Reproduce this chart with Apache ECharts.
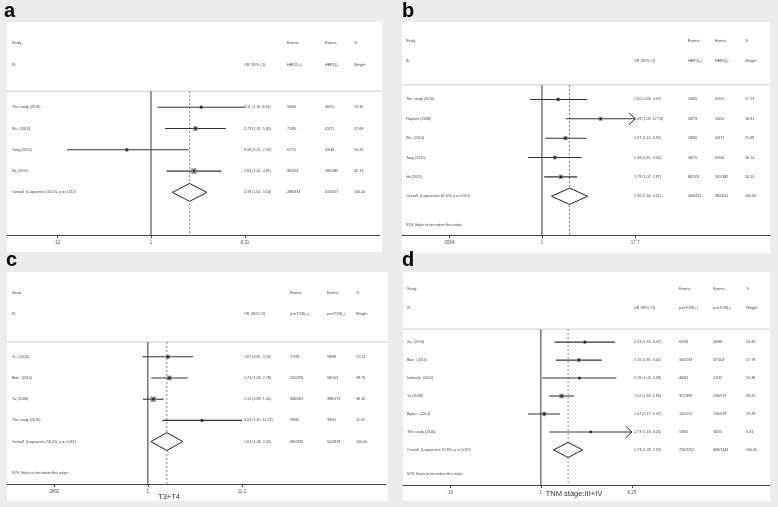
<!DOCTYPE html>
<html><head><meta charset="utf-8">
<script src="https://cdn.jsdelivr.net/npm/echarts@6/dist/echarts.min.js"></script>
<style>html,body{margin:0;padding:0;background:#ececec}#c{width:778px;height:507px}</style>
</head><body><div id="c"></div>
<script>
// ---------- Panel a : HER2 ----------
const aStudies = ['This study (2016)', 'Wu  (2014)', 'Tang (2015)', 'He (2015)'];
const aOR = [3.11, 2.73, 0.58, 2.64];
const aLo = [1.16, 1.37, 0.15, 1.42];
const aHi = [8.31, 5.45, 2.33, 4.91];
const aEvPos = ['59/65', '71/90', '67/75', '90/103'];
const aEvNeg = ['40/55', '41/71', '43/46', '286/385'];
const aWeight = [13.35, 27.69, 16.26, 42.71];
const aTrunc = [0, 0, 0, 0];
const aOverall = [2.39, 1.62, 3.54];
const aOverallLabel = 'Overall  (I-squared = 33.5%, p = 0.211)';
const aOverallEv = ['288/333', '410/557'];
const aTicks = [0.12, 1, 8.31];
const aTickLabels = ['.12', '1', '8.31'];

// ---------- Panel b : HER2 ----------
const bStudies = ['This study (2016)', 'Hayashi (2008)', 'Wu  (2014)', 'Tang (2015)', 'He (2015)'];
const bOR = [1.65, 6.09, 2.07, 1.49, 1.79];
const bLo = [0.69, 2.09, 1.10, 0.65, 1.07];
const bHi = [4.07, 17.74, 3.92, 3.42, 2.97];
const bEvPos = ['54/65', '59/79', '59/90', '56/75', '80/103'];
const bEvNeg = ['41/55', '14/55', '34/71', '32/46', '261/385'];
const bWeight = [17.13, 18.91, 21.68, 18.14, 24.14];
const bTrunc = [0, 1, 0, 0, 0];
const bOverall = [2.35, 1.34, 4.11];
const bOverallLabel = 'Overall  (I-squared = 67.6%, p = 0.015)';
const bOverallEv = ['308/412', '382/612'];
const bTicks = [0.0564, 1, 17.7];
const bTickLabels = ['.0564', '1', '17.7'];

// ---------- Panel c : p-mTOR, T3+T4 ----------
const cStudies = ['Xu  (2010)', 'Bian  (2015)', 'Yu (2009)', 'This study (2016)'];
const cOR = [1.67, 1.74, 1.15, 4.03];
const cLo = [0.87, 1.09, 0.88, 1.45];
const cHi = [3.20, 2.78, 1.50, 11.21];
const cEvPos = ['71/93', '205/293', '346/481', '59/65'];
const cEvNeg = ['58/88', '59/103', '396/573', '39/55'];
const cWeight = [21.23, 28.76, 38.10, 11.92];
const cTrunc = [0, 0, 0, 0];
const cOverall = [1.63, 1.08, 2.45];
const cOverallLabel = 'Overall  (I-squared = 59.4%, p = 0.061)';
const cOverallEv = ['681/932', '552/819'];
const cTicks = [0.0892, 1, 11.21];
const cTickLabels = ['.0892', '1', '11.2'];

// ---------- Panel d : p-mTOR, TNM stage III+IV ----------
const dStudies = ['Xu  (2010)', 'Bian  (2015)', 'Inokuchi  (2011)', 'Yu (2009)', 'Byeon  (2014)', 'This study (2016)'];
const dOR = [2.43, 2.15, 2.18, 1.52, 1.07, 2.73];
const dLo = [1.32, 1.35, 1.03, 1.18, 0.77, 1.19];
const dHi = [4.47, 3.41, 4.58, 1.95, 1.47, 6.25];
const dEvPos = ['65/93', '160/293', '46/81', '327/499', '105/221', '53/65'];
const dEvNeg = ['43/88', '37/103', '17/45', '318/573', '220/479', '34/55'];
const dWeight = [13.41, 17.79, 10.38, 28.20, 23.28, 6.94];
const dTrunc = [0, 0, 0, 0, 0, 1];
const dOverall = [1.73, 1.29, 2.32];
const dOverallLabel = 'Overall  (I-squared = 57.8%, p = 0.037)';
const dOverallEv = ['756/1252', '669/1343'];
const dTicks = [0.16, 1, 6.25];
const dTickLabels = ['.16', '1', '6.25'];

const overallWeight = '100.00';
const noteText = 'NOTE: Weights are from random effects analysis';

// ---------- layout (positions / styles only) ----------
const FONT = '"Liberation Sans", Arial, sans-serif';
const panels = [
  {P:{studies:aStudies, or:aOR, lo:aLo, hi:aHi, evPos:aEvPos, evNeg:aEvNeg, weight:aWeight, trunc:aTrunc,
      overall:aOverall, overallLabel:aOverallLabel, overallEv:aOverallEv, ticks:aTicks, tickLabels:aTickLabels,
      hdrPos:'HER2(+)', hdrNeg:'HER2(-)', note:null, letter:'a', title:null},
   L:{rect:[7,22,375,230], grid:[7,22,373,213], x:[-3.25,5.17], y:[-4,6], cols:[5,237,280,318,347], hdr:[-3,-2,-0.75],
      letter:[4,1], noteRow:null, title:null}},
  {P:{studies:bStudies, or:bOR, lo:bLo, hi:bHi, evPos:bEvPos, evNeg:bEvNeg, weight:bWeight, trunc:bTrunc,
      overall:bOverall, overallLabel:bOverallLabel, overallEv:bOverallEv, ticks:bTicks, tickLabels:bTickLabels,
      hdrPos:'HER2(+)', hdrNeg:'HER2(-)', note:noteText, letter:'b', title:null},
   L:{rect:[402,22,368,231], grid:[402,22,368,213], x:[-4.32,7.04], y:[-4,7], cols:[4,232,286,313,343], hdr:[-3,-2,-0.75],
      letter:[402,1], noteRow:6.5, title:null}},
  {P:{studies:cStudies, or:cOR, lo:cLo, hi:cHi, evPos:cEvPos, evNeg:cEvNeg, weight:cWeight, trunc:cTrunc,
      overall:cOverall, overallLabel:cOverallLabel, overallEv:cOverallEv, ticks:cTicks, tickLabels:cTickLabels,
      hdrPos:'p-mTOR(+)', hdrNeg:'p-mTOR(-)', note:noteText, letter:'c', title:'T3+T4'},
   L:{rect:[7,272,381,229], grid:[7,272,379,212], x:[-3.62,6.12], y:[-4,6], cols:[5,237,283,320,349], hdr:[-3,-2,-0.7],
      letter:[6,250], noteRow:5.5, title:[169,497]}},
  {P:{studies:dStudies, or:dOR, lo:dLo, hi:dHi, evPos:dEvPos, evNeg:dEvNeg, weight:dWeight, trunc:dTrunc,
      overall:dOverall, overallLabel:dOverallLabel, overallEv:dOverallEv, ticks:dTicks, tickLabels:dTickLabels,
      hdrPos:'p-mTOR(+)', hdrNeg:'p-mTOR(-)', note:noteText, letter:'d', title:'TNM stage:III+IV'},
   L:{rect:[403,272,367,229], grid:[403,272,367,213], x:[-2.78,4.62], y:[-3.9,7.95], cols:[4,231,276,310,343], hdr:[-2.94,-1.9,-0.72],
      letter:[402,250], noteRow:7.35, title:[574,494]}}
];

const grid = [], xAxis = [], yAxis = [], series = [], graphic = [];
const ln = Math.log;
const fmt = (o, l, h) => o.toFixed(2) + ' (' + l.toFixed(2) + ', ' + h.toFixed(2) + ')';

panels.forEach(({P, L}, idx) => {
  const tMin = ln(P.ticks[0]), tMax = ln(P.ticks[P.ticks.length - 1]);
  const tickVals = P.ticks.map(ln);
  grid.push({left:L.grid[0], top:L.grid[1], width:L.grid[2], height:L.grid[3]});
  xAxis.push({gridIndex:idx, type:'value', min:L.x[0], max:L.x[1], splitLine:{show:false},
    axisLine:{show:true, onZero:false, lineStyle:{color:'#444', width:1}},
    axisTick:{show:true, length:3, customValues:tickVals, lineStyle:{color:'#444', width:1}},
    axisLabel:{show:true, customValues:tickVals, fontSize:4.5, color:'#555', margin:5, fontFamily:FONT,
      formatter:(v) => { const k = tickVals.findIndex(t => Math.abs(t - v) < 1e-3); return k >= 0 ? P.tickLabels[k] : ''; }}});
  yAxis.push({gridIndex:idx, type:'value', inverse:true, min:L.y[0], max:L.y[1], show:false});

  const n = P.studies.length;
  // reference lines: header separator, null line, dashed overall line
  series.push({type:'custom', xAxisIndex:idx, yAxisIndex:idx, silent:true, z:1,
    data:[[ln(P.overall[0]), L.hdr[2]]],
    renderItem:(params, api) => {
      const cs = params.coordSys;
      const yTop = api.coord([0, api.value(1)])[1];
      const yBot = cs.y + cs.height;
      const x1 = api.coord([0, 0])[0];
      const xd = api.coord([api.value(0), 0])[0];
      return {type:'group', children:[
        {type:'line', shape:{x1:L.rect[0], y1:yTop, x2:L.rect[0] + L.rect[2], y2:yTop}, style:{stroke:'#cfcfcf', lineWidth:1}},
        {type:'line', shape:{x1:x1, y1:yTop, x2:x1, y2:yBot}, style:{stroke:'#333', lineWidth:1}},
        {type:'line', shape:{x1:xd, y1:yTop, x2:xd, y2:yBot}, style:{stroke:'#666', lineWidth:0.8, lineDash:[2, 2]}}
      ]};
    }});
  // study CIs, boxes and points
  series.push({type:'custom', xAxisIndex:idx, yAxisIndex:idx, silent:true, z:3,
    data:P.or.map((o, i) => [ln(o), i, ln(P.lo[i]), ln(P.hi[i]), P.weight[i], P.trunc[i]]),
    renderItem:(params, api) => {
      const y = api.coord([0, api.value(1)])[1];
      const lo = Math.max(api.value(2), tMin), hi = Math.min(api.value(3), tMax);
      const xo = api.coord([api.value(0), 0])[0];
      const xl = api.coord([lo, 0])[0], xh = api.coord([hi, 0])[0];
      const s = 0.72 * Math.sqrt(api.value(4));
      const ch = [
        {type:'line', shape:{x1:xl, y1:y, x2:xh, y2:y}, style:{stroke:'#333', lineWidth:1.1}},
        {type:'rect', shape:{x:xo - s / 2, y:y - s / 2, width:s, height:s}, style:{fill:'#8f8f8f', stroke:'#6a6a6a', lineWidth:0.5}},
        {type:'circle', shape:{cx:xo, cy:y, r:1.15}, style:{fill:'#111'}}
      ];
      if (api.value(5)) ch.push({type:'polyline', shape:{points:[[xh - 6, y - 6], [xh, y], [xh - 6, y + 6]]}, style:{stroke:'#222', fill:null, lineWidth:1}});
      return {type:'group', children:ch};
    }});
  // overall diamond
  series.push({type:'custom', xAxisIndex:idx, yAxisIndex:idx, silent:true, z:3,
    data:[[ln(P.overall[0]), n, ln(P.overall[1]), ln(P.overall[2])]],
    renderItem:(params, api) => {
      const y = api.coord([0, api.value(1)])[1];
      const h = api.size([0, 1])[1] * 0.42;
      const xo = api.coord([api.value(0), 0])[0];
      const xl = api.coord([api.value(2), 0])[0], xh = api.coord([api.value(3), 0])[0];
      return {type:'polygon', shape:{points:[[xl, y], [xo, y - h], [xh, y], [xo, y + h]]}, style:{fill:'#fff', stroke:'#222', lineWidth:1}};
    }});
  // text columns
  const items = [];
  const add = (col, row, text, fs) => items.push({col, row, text, fs: fs || 3.7});
  add(0, L.hdr[0], 'Study'); add(2, L.hdr[0], 'Events,'); add(3, L.hdr[0], 'Events,'); add(4, L.hdr[0], '%');
  add(0, L.hdr[1], 'ID'); add(1, L.hdr[1], 'OR (95% CI)'); add(2, L.hdr[1], P.hdrPos); add(3, L.hdr[1], P.hdrNeg); add(4, L.hdr[1], 'Weight');
  P.studies.forEach((s, i) => {
    add(0, i, s); add(1, i, fmt(P.or[i], P.lo[i], P.hi[i])); add(2, i, P.evPos[i]); add(3, i, P.evNeg[i]); add(4, i, P.weight[i].toFixed(2));
  });
  add(0, n, P.overallLabel); add(1, n, fmt(P.overall[0], P.overall[1], P.overall[2]));
  add(2, n, P.overallEv[0]); add(3, n, P.overallEv[1]); add(4, n, overallWeight);
  if (P.note) add(0, L.noteRow, P.note, 2.6);
  series.push({type:'custom', xAxisIndex:idx, yAxisIndex:idx, silent:true, z:4,
    data:items.map(it => [0, it.row]),
    renderItem:(params, api) => {
      const it = items[params.dataIndex];
      const y = api.coord([0, api.value(1)])[1];
      return {type:'text', x:params.coordSys.x + L.cols[it.col], y:y,
        style:{text:it.text, fontSize:it.fs, fontFamily:FONT, fill:'#444', align:'left', verticalAlign:'middle'}};
    }});

  graphic.push({type:'rect', silent:true, z:-10, shape:{x:L.rect[0], y:L.rect[1], width:L.rect[2], height:L.rect[3]}, style:{fill:'#ffffff'}});
  graphic.push({type:'text', silent:true, x:L.letter[0], y:L.letter[1],
    style:{text:P.letter, font:'bold 20px ' + FONT, fill:'#000', align:'left', verticalAlign:'top'}});
  if (P.title) graphic.push({type:'text', silent:true, x:L.title[0], y:L.title[1],
    style:{text:P.title, fontSize:7.5, fontFamily:FONT, fill:'#333', align:'center', verticalAlign:'middle'}});
});

const chart = echarts.init(document.getElementById('c'), null, {renderer:'canvas'});
chart.setOption({backgroundColor:'#ececec', animation:false, grid, xAxis, yAxis, series, graphic});
</script></body></html>
